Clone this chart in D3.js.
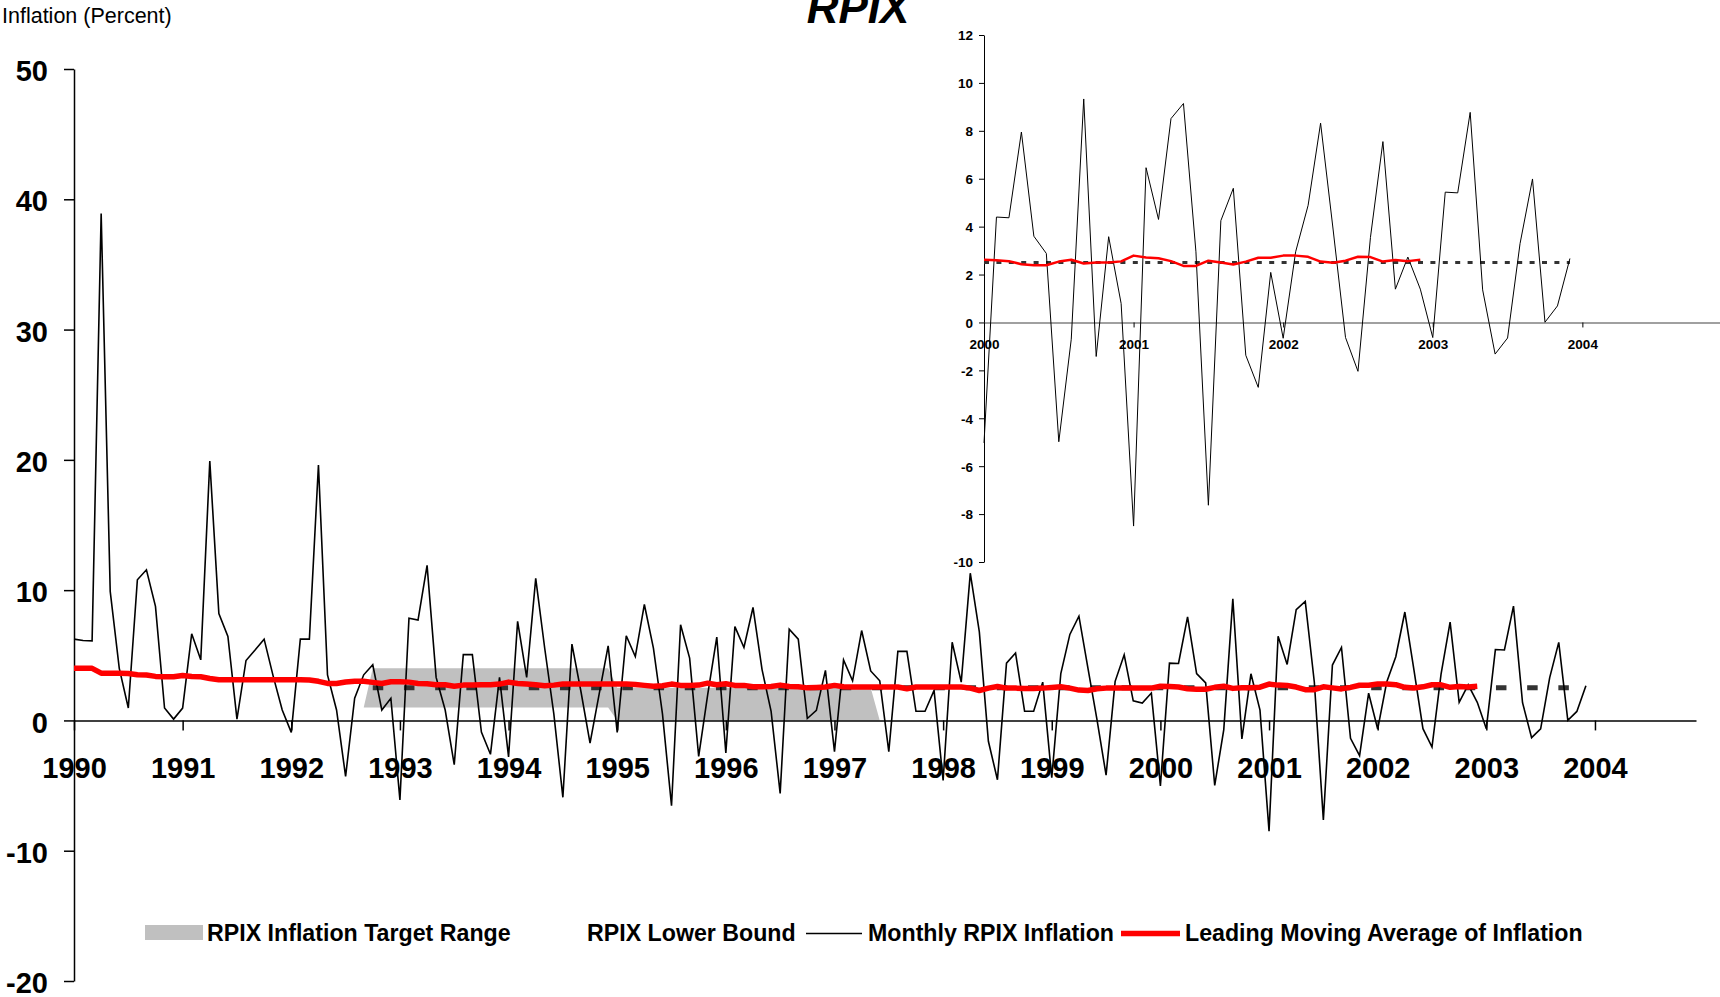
<!DOCTYPE html>
<html>
<head>
<meta charset="utf-8">
<script src="https://cdn.jsdelivr.net/npm/d3@7"></script>
<style>
    body { margin: 0; background: #fff; }
    svg { display: block; font-family: Arial, "Liberation Sans", Helvetica, sans-serif; }
</style>
</head>
<body>
<svg id="chart" width="1720" height="997"></svg>
<script>
// Monthly RPIX inflation, annualised, Jan 1990 - Dec 2003 (one row per year)
const startYear = 1990;
const monthlyRpix = [
    6.24, 6.14, 6.11, 38.9, 9.9, 4.0, 0.95, 10.8, 11.56, 8.75, 0.95, 0.1,
    0.95, 6.65, 4.65, 19.9, 8.2, 6.45, 0.1, 4.6, 5.4, 6.24, 3.4, 0.8,
    -0.92, 6.24, 6.24, 19.6, 3.5, 0.8, -4.3, 1.7, 3.5, 4.27, 0.8, 1.7,
    -6.1, 7.85, 7.7, 11.9, 3.3, 0.8, -3.4, 5.05, 5.05, -0.9, -2.6, 3.3,
    -2.8, 7.6, 3.3, 10.9, 5.5, 0.5, -5.9, 5.86, 2.2, -1.74, 2.0, 5.73,
    -0.92, 6.5, 4.9, 8.9, 5.55, 0.5, -6.55, 7.34, 4.78, -2.76, 2.0, 6.4,
    -2.5, 7.2, 5.6, 8.67, 3.9, 0.7, -5.6, 7.0, 6.24, 0.15, 0.77, 3.84,
    -2.4, 4.65, 3.04, 6.9, 3.8, 3.04, -2.4, 5.3, 5.3, 0.7, 0.7, 2.3,
    -4.6, 6.0, 2.94, 11.3, 6.8, -1.6, -4.55, 4.4, 5.17, 0.7, 0.7, 2.94,
    -4.4, 3.6, 6.6, 8.0, 4.0, 0.05, -4.2, 3.0, 5.04, 1.5, 1.33, 2.1,
    -5.03, 4.4, 4.37, 7.95, 3.6, 2.88, -4.98, -0.7, 9.33, -1.42, 3.58, 0.79,
    -8.5, 6.46, 4.3, 8.51, 9.14, 2.95, -7.63, 4.25, 5.6, -1.37, -2.71, 2.09,
    -0.66, 2.95, 4.89, 8.32, 3.9, -0.63, -2.04, 3.55, 7.55, 1.39, 2.73, 1.39,
    -0.63, 5.44, 5.41, 8.77, 1.36, -1.32, -0.65, 3.29, 5.99, 0.01, 0.69, 2.67
];

// Leading moving average of inflation, Jan 1990 - Dec 2002
const movingAverage = [
    4.0, 4.0, 4.0, 3.63, 3.63, 3.63, 3.6, 3.5, 3.48, 3.38, 3.35, 3.35,
    3.45, 3.38, 3.35, 3.22, 3.12, 3.12, 3.12, 3.12, 3.12, 3.12, 3.12, 3.12,
    3.12, 3.12, 3.1, 3.0, 2.84, 2.84, 2.95, 3.0, 3.0, 2.92, 2.84, 2.97,
    2.97, 2.94, 2.84, 2.81, 2.74, 2.74, 2.63, 2.71, 2.71, 2.74, 2.74, 2.79,
    2.94, 2.84, 2.79, 2.74, 2.66, 2.71, 2.79, 2.79, 2.79, 2.79, 2.79, 2.79,
    2.79, 2.79, 2.76, 2.69, 2.63, 2.66, 2.79, 2.69, 2.69, 2.71, 2.86, 2.74,
    2.81, 2.69, 2.69, 2.58, 2.58, 2.61, 2.71, 2.61, 2.58, 2.5, 2.53, 2.56,
    2.69, 2.58, 2.56, 2.56, 2.56, 2.56, 2.56, 2.56, 2.43, 2.56, 2.56, 2.56,
    2.56, 2.56, 2.56, 2.48, 2.3, 2.48, 2.61, 2.48, 2.48, 2.46, 2.46, 2.48,
    2.53, 2.58, 2.48, 2.33, 2.3, 2.43, 2.48, 2.48, 2.48, 2.48, 2.48, 2.48,
    2.62, 2.6, 2.56, 2.43, 2.39, 2.39, 2.54, 2.62, 2.46, 2.5, 2.5, 2.55,
    2.79, 2.71, 2.68, 2.56, 2.36, 2.36, 2.58, 2.5, 2.42, 2.54, 2.7, 2.7,
    2.79, 2.79, 2.74, 2.54, 2.49, 2.58, 2.74, 2.73, 2.54, 2.61, 2.56, 2.62
];

// RPIX lower bound (2.5%)
const lowerBound = [
    { date: "1992-10", value: 2.5 },
    { date: "2003-12", value: 2.5 }
];

// RPIX inflation target range (breakpoints)
const targetRange = [
    { date: "1992-09", low: 1, high: 1 },
    { date: "1992-10", low: 1, high: 4 },
    { date: "1994-12", low: 1, high: 4 },
    { date: "1995-01", low: 0, high: 2.5 },
    { date: "1997-05", low: 0, high: 2.5 },
    { date: "1997-06", low: 0, high: 0 }
];

const mainYTicks = [50, 40, 30, 20, 10, 0, -10, -20];
const mainXTicks = [1990, 1991, 1992, 1993, 1994, 1995, 1996, 1997, 1998, 1999, 2000, 2001, 2002, 2003, 2004];
const insetYTicks = [12, 10, 8, 6, 4, 2, 0, -2, -4, -6, -8, -10];
const insetXTicks = [2000, 2001, 2002, 2003, 2004];

const legendLabels = ["RPIX Inflation Target Range", "RPIX Lower Bound", "Monthly RPIX Inflation", "Leading Moving Average of Inflation"];

function toYear(s) {
    const parts = s.split("-").map(Number);
    return parts[0] + (parts[1] - 1) / 12;
}

// plain hyphen for negatives, like the original
const plain = d => String(d);

const monthly = monthlyRpix.map((v, i) => ({ t: startYear + i / 12, v: v }));
const average = movingAverage.map((v, i) => ({ t: startYear + i / 12, v: v }));
const bound = lowerBound.map(d => ({ t: toYear(d.date), v: d.value }));
const band = targetRange.map(d => ({ t: toYear(d.date), low: d.low, high: d.high }));

const svg = d3.select("#chart");

// ---------- main chart ----------
const x = d3.scaleLinear().domain([1990, 2004.93]).range([74, 1696]);
const y = d3.scaleLinear().domain([-20, 50]).range([981, 69]);

const line = d3.line().x(d => x(d.t)).y(d => y(d.v));

// target range
svg.append("path")
    .datum(band)
    .attr("fill", "#c0c0c0")
    .attr("d", d3.area().x(d => x(d.t)).y0(d => y(d.low)).y1(d => y(d.high)));

// y axis
const yAxis = svg.append("g")
    .attr("transform", `translate(${x(1990)},0)`)
    .call(d3.axisLeft(y).tickValues(mainYTicks).tickSize(10).tickSizeOuter(0).tickPadding(16).tickFormat(plain));
yAxis.select(".domain").attr("stroke-width", 1.5);
yAxis.selectAll(".tick line").attr("stroke-width", 1.5);
yAxis.selectAll("text")
    .attr("dy", "0.4em")
    .style("font-size", "29px")
    .style("font-weight", "bold")
    .style("font-family", "Arial, 'Liberation Sans', sans-serif")
    .attr("fill", "#000");

// x axis
const xAxis = svg.append("g")
    .attr("transform", `translate(0,${y(0)})`)
    .call(d3.axisBottom(x).tickValues(mainXTicks).tickSize(10).tickSizeOuter(0).tickFormat(plain));
xAxis.select(".domain").attr("stroke-width", 1.5);
xAxis.selectAll(".tick line").attr("stroke-width", 1.5);
xAxis.selectAll("text")
    .attr("y", 58)
    .attr("dy", 0)
    .style("font-size", "29px")
    .style("font-weight", "bold")
    .style("font-family", "Arial, 'Liberation Sans', sans-serif")
    .attr("fill", "#000");

// lower bound
svg.append("path")
    .datum(bound)
    .attr("fill", "none")
    .attr("stroke", "#333")
    .attr("stroke-width", 5)
    .attr("stroke-dasharray", "10.5,20.7")
    .attr("d", line);

// monthly inflation
svg.append("path")
    .datum(monthly)
    .attr("fill", "none")
    .attr("stroke", "#000")
    .attr("stroke-width", 1.6)
    .attr("d", line);

// moving average
svg.append("path")
    .datum(average)
    .attr("fill", "none")
    .attr("stroke", "#ff0000")
    .attr("stroke-width", 5.5)
    .attr("stroke-linejoin", "round")
    .attr("d", line);

// titles
svg.append("text")
    .attr("x", 2)
    .attr("y", 23)
    .style("font-size", "21.5px")
    .text("Inflation (Percent)");

svg.append("text")
    .attr("x", 858)
    .attr("y", 23)
    .attr("text-anchor", "middle")
    .style("font-size", "44px")
    .style("font-weight", "bold")
    .style("font-style", "italic")
    .text("RPIX");

// ---------- inset 2000-2003 ----------
const ix = d3.scaleLinear().domain([2000, 2004.92]).range([984, 1720]);
const iy = d3.scaleLinear().domain([-10, 12]).range([562, 35]);
const iline = d3.line().x(d => ix(d.t)).y(d => iy(d.v));

const iyAxis = svg.append("g")
    .attr("transform", `translate(${ix(2000)},0)`)
    .call(d3.axisLeft(iy).tickValues(insetYTicks).tickSize(5).tickSizeOuter(0).tickPadding(6).tickFormat(plain));
iyAxis.selectAll("text")
    .attr("dy", "0.36em")
    .style("font-size", "13.5px")
    .style("font-weight", "bold")
    .style("font-family", "Arial, 'Liberation Sans', sans-serif")
    .attr("fill", "#000");

const ixAxis = svg.append("g")
    .attr("transform", `translate(0,${iy(0)})`)
    .call(d3.axisBottom(ix).tickValues(insetXTicks).tickSize(5).tickSizeOuter(0).tickFormat(plain));
ixAxis.select(".domain").attr("stroke", "#808080").attr("stroke-width", 1.5);
ixAxis.selectAll("text")
    .attr("y", 27)
    .attr("dy", 0)
    .style("font-size", "13.5px")
    .style("font-weight", "bold")
    .style("font-family", "Arial, 'Liberation Sans', sans-serif")
    .attr("fill", "#000");

svg.append("path")
    .datum([{ t: 2000, v: bound[0].v }, bound[bound.length - 1]])
    .attr("fill", "none")
    .attr("stroke", "#333")
    .attr("stroke-width", 3)
    .attr("stroke-dasharray", "5,7.4")
    .attr("d", iline);

svg.append("path")
    .datum(monthly.filter(d => d.t >= 2000))
    .attr("fill", "none")
    .attr("stroke", "#000")
    .attr("stroke-width", 1)
    .attr("d", iline);

svg.append("path")
    .datum(average.filter(d => d.t >= 2000))
    .attr("fill", "none")
    .attr("stroke", "#ff0000")
    .attr("stroke-width", 2.5)
    .attr("stroke-linejoin", "round")
    .attr("d", iline);

// ---------- legend ----------
const legend = svg.append("g")
    .style("font-size", "23.2px")
    .style("font-weight", "bold");

legend.append("rect")
    .attr("x", 145).attr("y", 925)
    .attr("width", 58).attr("height", 15)
    .attr("fill", "#c0c0c0");
legend.append("text").attr("x", 207).attr("y", 941).text(legendLabels[0]);

legend.append("text").attr("x", 587).attr("y", 941).text(legendLabels[1]);

legend.append("line")
    .attr("x1", 806).attr("x2", 862)
    .attr("y1", 933.5).attr("y2", 933.5)
    .attr("stroke", "#000").attr("stroke-width", 1.6);
legend.append("text").attr("x", 868).attr("y", 941).text(legendLabels[2]);

legend.append("line")
    .attr("x1", 1121).attr("x2", 1180)
    .attr("y1", 933.5).attr("y2", 933.5)
    .attr("stroke", "#ff0000").attr("stroke-width", 5.5);
legend.append("text").attr("x", 1185).attr("y", 941).text(legendLabels[3]);
</script>
</body>
</html>
